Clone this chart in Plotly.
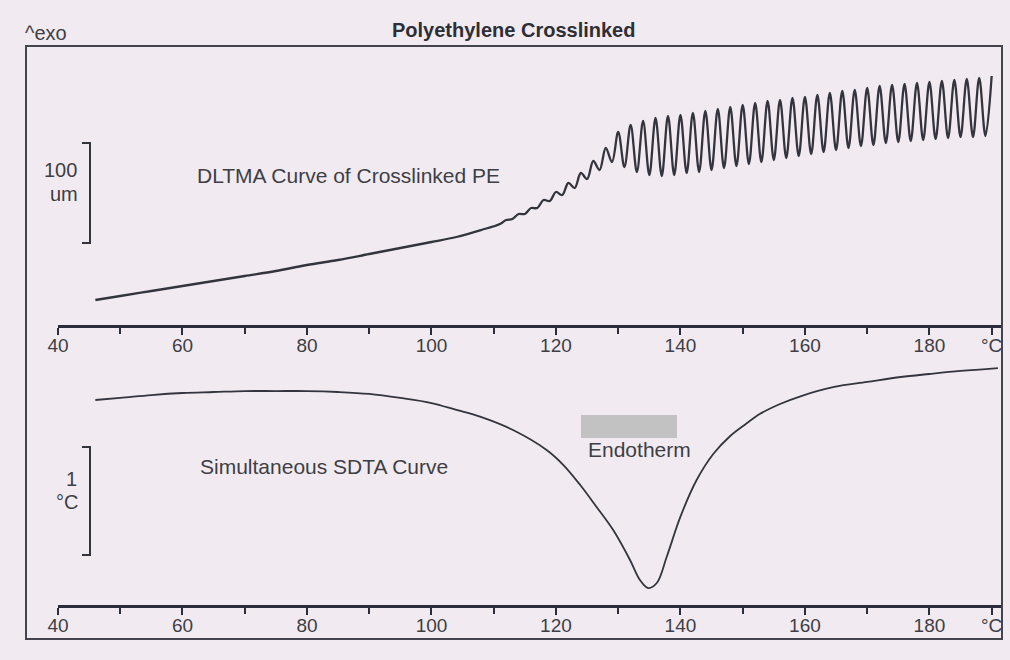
import plotly.graph_objects as go

# ---------------- data ----------------
# DLTMA curve (top panel): smooth part, temperature (°C) vs displacement (µm)
dltma_smooth_temp = [46, 50, 55, 60, 65, 70, 75, 80, 85, 90, 95, 100, 104, 108, 111]
dltma_smooth_um = [25, 29, 34, 39, 44, 49, 54, 60, 65, 71, 77, 83, 88, 95, 101]

# DLTMA oscillation extrema (alternating peak / trough, one per °C)
dltma_osc_temp = [112, 113, 114, 115, 116, 117, 118, 119, 120, 121, 122, 123, 124, 125,
                  126, 127, 128, 129, 130, 131, 132, 133, 134, 135, 136, 137, 138, 139,
                  140, 141, 142, 143, 144, 145, 146, 147, 148, 149, 150, 151, 152, 153,
                  154, 155, 156, 157, 158, 159, 160, 161, 162, 163, 164, 165, 166, 167,
                  168, 169, 170, 171, 172, 173, 174, 175, 176, 177, 178, 179, 180, 181,
                  182, 183, 184, 185, 186, 187, 188, 189, 190]
dltma_osc_um = [105, 106, 111, 111, 117, 117, 125, 124, 133, 130, 142, 137, 152, 146,
                164, 155, 177, 163, 193, 158, 200, 153, 204, 150, 207, 149, 209, 150,
                210, 152, 212, 153, 214, 155, 216, 157, 218, 159, 220, 161, 222, 163,
                224, 165, 225, 167, 227, 169, 228, 171, 230, 173, 232, 175, 234, 177,
                235, 179, 237, 180, 239, 182, 240, 183, 241, 184, 242, 185, 243, 186,
                244, 187, 245, 188, 246, 188, 247, 189, 249]

# SDTA curve (bottom panel): temperature (°C) vs temperature difference (°C)
sdta_temp = [46, 50, 55, 60, 65, 70, 75, 80, 85, 90, 95, 100, 104, 107.8, 113.1, 118.5,
             121.2, 123.9, 126.5, 129.2, 131.9, 133.5, 134.8, 136.2, 137.8, 140, 142.6,
             145.3, 148, 150.6, 152.8, 156, 159.4, 164.7, 170, 175.4, 180, 185, 191]
sdta_dT = [1.898, 1.917, 1.944, 1.963, 1.972, 1.981, 1.981, 1.981, 1.972, 1.954, 1.917,
           1.870, 1.806, 1.744, 1.620, 1.435, 1.296, 1.111, 0.910, 0.694, 0.417, 0.231,
           0.157, 0.204, 0.447, 0.818, 1.157, 1.400, 1.565, 1.680, 1.770, 1.861, 1.935,
           2.019, 2.065, 2.111, 2.139, 2.167, 2.194]

# axis ticks
major_ticks = [40, 60, 80, 100, 120, 140, 160, 180, 190]
major_text = ["40", "60", "80", "100", "120", "140", "160", "180", "°C"]
minor_ticks = [50, 70, 90, 110, 130, 150, 170]

# scale bars
scale_um = 100
scale_um_base = 82
scale_dT = 1
scale_dT_base = 0.463

# ---------------- figure ----------------
W, H = 1010, 660
LINE = "#34343e"
AXC = "#2c2c3c"
TXT = "#3e3e44"
FONT = "Liberation Sans, Arial, sans-serif"


def fx(px):
    return px / W


def fy(py):
    return (H - py) / H


dltma_temp = dltma_smooth_temp + dltma_osc_temp
dltma_um = dltma_smooth_um + dltma_osc_um

fig = go.Figure()
fig.add_trace(go.Scatter(
    x=dltma_temp, y=dltma_um, mode="lines",
    line=dict(color=LINE, width=2.3, shape="spline", smoothing=1.0),
    xaxis="x", yaxis="y", hoverinfo="skip", showlegend=False))
fig.add_trace(go.Scatter(
    x=sdta_temp, y=sdta_dT, mode="lines",
    line=dict(color=LINE, width=1.8, shape="spline", smoothing=1.0),
    xaxis="x2", yaxis="y2", hoverinfo="skip", showlegend=False))

xcommon = dict(
    range=[40, 191.5], domain=[fx(58), fx(1001)],
    showline=True, linecolor=AXC, linewidth=2.5,
    ticks="outside", ticklen=7, tickwidth=2, tickcolor=AXC,
    tickvals=major_ticks, ticktext=major_text, ticklabelstandoff=-6,
    tickfont=dict(family=FONT, size=19, color=TXT),
    showgrid=False, zeroline=False, fixedrange=True, automargin=False,
    minor=dict(tickvals=minor_ticks, ticks="outside", ticklen=6, tickwidth=2,
               tickcolor=AXC, showgrid=False),
)

fig.update_layout(
    template="none",
    width=W, height=H,
    margin=dict(l=0, r=0, t=0, b=0, pad=0, autoexpand=False),
    paper_bgcolor="#f1ebf1",
    plot_bgcolor="rgba(0,0,0,0)",
    showlegend=False,
    xaxis=dict(anchor="y", **xcommon),
    xaxis2=dict(anchor="y2", **xcommon),
    yaxis=dict(domain=[fy(325), fy(50)], range=[0, 275], visible=False, anchor="x",
               automargin=False, fixedrange=True),
    yaxis2=dict(domain=[fy(605), fy(345)], range=[0, 260 / 108], visible=False,
                anchor="x2", automargin=False, fixedrange=True),
)

shapes = [
    # outer frame
    dict(type="rect", xref="paper", yref="paper", x0=fx(26), x1=fx(1002),
         y0=fy(639), y1=fy(46), line=dict(color="#45454f", width=2), layer="below"),
    # gray box
    dict(type="rect", xref="paper", yref="paper", x0=fx(581), x1=fx(677),
         y0=fy(438), y1=fy(415), line=dict(width=0), fillcolor="#c2c2c2"),
    # scale bar 100 um
    dict(type="path", xref="paper", yref="y",
         path=(f"M {fx(82)},{scale_um_base + scale_um} L {fx(90)},{scale_um_base + scale_um} "
               f"L {fx(90)},{scale_um_base} L {fx(82)},{scale_um_base}"),
         line=dict(color=LINE, width=2)),
    # scale bar 1 °C
    dict(type="path", xref="paper", yref="y2",
         path=(f"M {fx(82)},{scale_dT_base + scale_dT} L {fx(90)},{scale_dT_base + scale_dT} "
               f"L {fx(90)},{scale_dT_base} L {fx(82)},{scale_dT_base}"),
         line=dict(color=LINE, width=2)),
]
fig.update_layout(shapes=shapes)


def note(text, x, y, xanchor="left", size=21, color=TXT):
    fig.add_annotation(text=text, x=fx(x), y=fy(y), xref="paper", yref="paper",
                       xanchor=xanchor, yanchor="middle", showarrow=False,
                       font=dict(family=FONT, size=size, color=color))


note("<b>Polyethylene Crosslinked</b>", 513, 30, xanchor="center", size=20, color="#2e2e34")
note("^exo", 23, 33, size=20)
note("100", 79, 170, xanchor="right", size=20)
note("um", 80, 194, xanchor="right", size=20)
note("1", 79, 479, xanchor="right", size=20)
note("°C", 80, 502, xanchor="right", size=20)
note("DLTMA Curve of Crosslinked PE", 195, 175)
note("Simultaneous SDTA Curve", 198, 467)
note("Endotherm", 586, 449)

fig.write_html("out.html")
